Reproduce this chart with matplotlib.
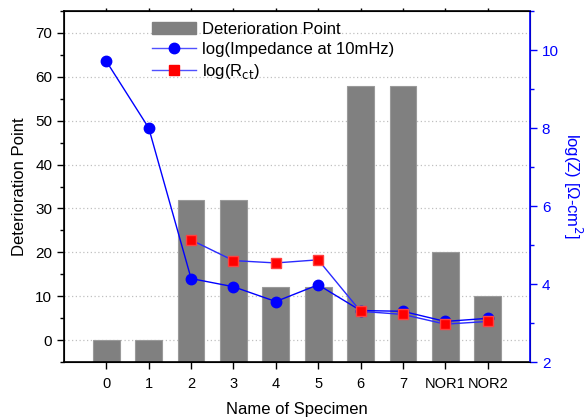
import matplotlib
matplotlib.use("Agg")
import matplotlib.pyplot as plt
from matplotlib.patches import Patch
from matplotlib.lines import Line2D
import numpy as np

plt.rcParams['font.family'] = ['Liberation Sans', 'DejaVu Sans']

specimens = ['0', '1', '2', '3', '4', '5', '6', '7', 'NOR1', 'NOR2']
deterioration = [0, 0, 32, 32, 12, 12, 58, 58, 20, 10]
log_impedance = [9.71, 8.0, 4.14, 3.93, 3.55, 3.98, 3.32, 3.30, 3.04, 3.12]
rct_specimens = ['2', '3', '4', '5', '6', '7', 'NOR1', 'NOR2']
log_rct = [5.13, 4.60, 4.54, 4.62, 3.30, 3.22, 2.97, 3.04]

ybottom = -5

fig = plt.figure(figsize=(5.87, 4.19), dpi=100)
ax1 = fig.add_axes([64/587, 1-362/419, (530-64)/587, (362-11)/419])
x = np.arange(len(specimens))
xr = [specimens.index(s) for s in rct_specimens]

ax1.bar(x, np.array(deterioration) - ybottom, bottom=ybottom, width=0.63, color='#808080',
        edgecolor='#9a9a9a', linewidth=0.8, zorder=2)
ax1.set_xlim(-1, 10)
ax1.set_ylim(ybottom, 75)
ax1.set_yticks(np.arange(0, 71, 10))
ax1.set_yticks(np.arange(-5, 76, 5), minor=True)
ax1.set_xticks(x)
ax1.set_xticklabels(specimens)
ax1.yaxis.grid(True, linestyle=(0, (1, 2)), color='#c0c0c0', linewidth=0.9)
ax1.set_axisbelow(True)
ax1.set_ylabel('Deterioration Point', fontsize=12, labelpad=6)
ax1.set_xlabel('Name of Specimen', fontsize=12, labelpad=8)
ax1.tick_params(axis='both', which='major', direction='out', length=5, width=1, labelsize=11)
ax1.tick_params(axis='x', which='major', labelsize=10.5, pad=6)
ax1.tick_params(axis='y', which='minor', direction='out', length=3, width=1)
ax1.tick_params(axis='x', top=True, direction='out')
for t in ax1.xaxis.get_major_ticks():
    t.tick2line.set_markersize(2)
for s in ['left', 'bottom', 'top']:
    ax1.spines[s].set_linewidth(1.2)

ax2 = ax1.twinx()
ax2.plot(x, log_impedance, '-o', color='blue', markerfacecolor='blue', markeredgecolor='blue',
         markersize=7.5, linewidth=1)
ax2.plot(xr, log_rct, '-s', color='#2a2aff', markerfacecolor='red', markeredgecolor='#ff4040',
         markersize=6.5, linewidth=1)
ax2.set_ylim(2, 11)
ax2.set_yticks([2, 4, 6, 8, 10])
ax2.set_yticks([3, 5, 7, 9, 11], minor=True)
ax2.spines['right'].set_color('blue')
ax2.spines['right'].set_linewidth(1.2)
ax2.tick_params(axis='y', which='both', colors='blue', direction='out', labelsize=11)
ax2.tick_params(axis='y', which='major', length=5, width=1)
ax2.tick_params(axis='y', which='minor', length=3, width=1)
ax2.set_ylabel('log(Z) [Ω-cm$^2$]', color='blue', fontsize=12, rotation=270, labelpad=18)

handles = [Patch(facecolor='#808080', edgecolor='#808080'),
           Line2D([], [], color='#5050ff', marker='o', markerfacecolor='blue', markeredgecolor='blue', markersize=7.5, linewidth=1),
           Line2D([], [], color='#5050ff', marker='s', markerfacecolor='red', markeredgecolor='red', markersize=6.5, linewidth=1)]
labels = ['Deterioration Point', 'log(Impedance at 10mHz)', 'log(R$_{\\rm ct}$)']
ax2.legend(handles, labels, loc='upper left', bbox_to_anchor=(0.168, 0.997), frameon=False,
           fontsize=12, handlelength=2.6, handletextpad=0.4, labelspacing=0.3, borderaxespad=0.2)

fig.savefig('out.png', dpi=100)
